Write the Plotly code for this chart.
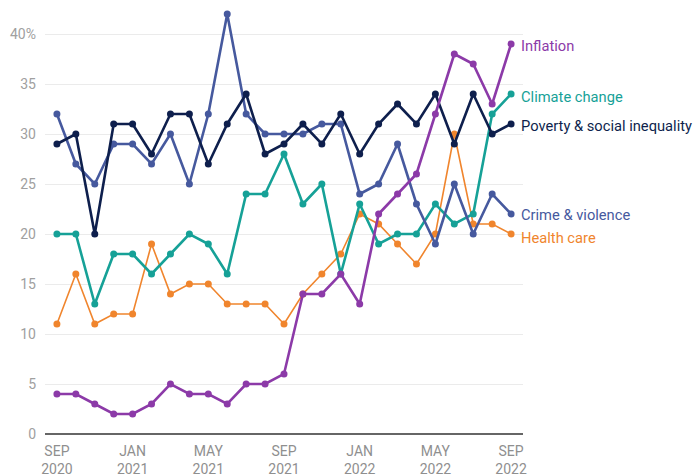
import plotly.graph_objects as go

months = ["SEP<br>2020", "", "", "", "JAN<br>2021", "", "", "", "MAY<br>2021", "", "", "",
          "SEP<br>2021", "", "", "", "JAN<br>2022", "", "", "", "MAY<br>2022", "", "", "", "SEP<br>2022"]

inflation = [4, 4, 3, 2, 2, 3, 5, 4, 4, 3, 5, 5, 6, 14, 14, 16, 13, 22, 24, 26, 32, 38, 37, 33, 39]
climate = [20, 20, 13, 18, 18, 16, 18, 20, 19, 16, 24, 24, 28, 23, 25, 16, 23, 19, 20, 20, 23, 21, 22, 32, 34]
poverty = [29, 30, 20, 31, 31, 28, 32, 32, 27, 31, 34, 28, 29, 31, 29, 32, 28, 31, 33, 31, 34, 29, 34, 30, 31]
crime = [32, 27, 25, 29, 29, 27, 30, 25, 32, 42, 32, 30, 30, 30, 31, 31, 24, 25, 29, 23, 19, 25, 20, 24, 22]
health = [11, 16, 11, 12, 12, 19, 14, 15, 15, 13, 13, 13, 11, 14, 16, 18, 22, 21, 19, 17, 20, 30, 21, 21, 20]

names = ["Inflation", "Climate change", "Poverty & social inequality", "Crime & violence", "Health care"]
colors = ["#8c3aa8", "#16a197", "#0e1f4d", "#46599e", "#f0852d"]
label_offsets = [-0.2, -0.3, -0.2, -0.1, -0.4]

x = list(range(len(months)))
series = [inflation, climate, poverty, crime, health]

fig = go.Figure()
order = [4, 1, 3, 2, 0]
for i in order:
    w = 1.6 if i == 4 else 2.6
    fig.add_trace(go.Scatter(
        x=x, y=series[i], mode="lines+markers", name=names[i],
        line=dict(color=colors[i], width=w),
        marker=dict(color=colors[i], size=7),
        showlegend=False, hoverinfo="skip"))

for i in range(5):
    fig.add_annotation(x=x[-1], y=series[i][-1] + label_offsets[i], text=names[i],
                       xref="x", yref="y", xanchor="left", yanchor="middle",
                       xshift=8, showarrow=False,
                       font=dict(family="Roboto", size=14.7, color=colors[i]))

fig.update_layout(
    width=698, height=476,
    margin=dict(l=45, r=175, t=9, b=42),
    paper_bgcolor="white", plot_bgcolor="white",
    font=dict(family="Roboto", size=14, color="#999999"),
    xaxis=dict(range=[-0.63, 24.63], tickmode="array", tickvals=x, ticktext=months,
               showgrid=False, zeroline=False, showline=False, ticks="",
               ticklabelstandoff=7, automargin=False,
               tickfont=dict(size=14, color="#8f8f8f"), tickangle=0),
    yaxis=dict(range=[0, 42.5], tickmode="array", tickvals=[0, 5, 10, 15, 20, 25, 30, 35, 40],
               ticktext=["0", "5", "10", "15", "20", "25", "30", "35", "40%"],
               showgrid=True, gridcolor="#ebebeb", gridwidth=1,
               zeroline=True, zerolinecolor="#666666", zerolinewidth=2,
               showline=False, ticks="", ticklabelstandoff=8, automargin=False,
               tickfont=dict(size=14, color="#a0a0a0")),
)

fig.write_html("out.html", config={"displayModeBar": False},
               post_script="document.body.style.margin='0px';")
